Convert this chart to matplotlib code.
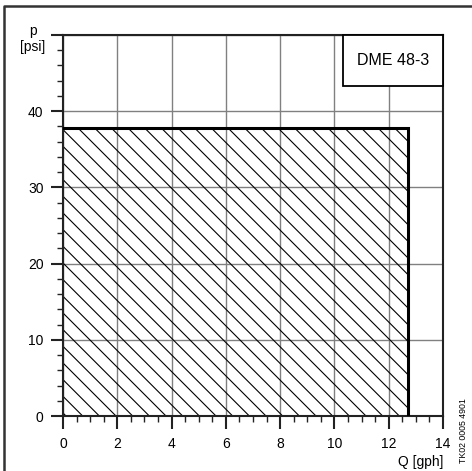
import matplotlib
matplotlib.use('Agg')
import matplotlib.pyplot as plt
import numpy as np
from matplotlib.patches import Rectangle
from matplotlib.lines import Line2D

plt.rcParams['font.family'] = ['Liberation Sans', 'DejaVu Sans']
plt.rcParams['hatch.linewidth'] = 0.8

# operating range of the pump
q_max = 12.7   # gph
p_max = 37.8   # psi
model = 'DME 48-3'
code = 'TK02 0005 4901'

x_major = np.arange(0, 15, 2)
x_minor = np.arange(0, 14.5, 0.5)
y_major = np.arange(0, 51, 10)
y_minor = np.arange(0, 51, 2)
y_labels = ['0', '10', '20', '30', '40', '']

W, H = 472, 471
fig = plt.figure(figsize=(W / 100, H / 100), dpi=100)
ax = fig.add_axes([63 / W, (H - 416) / H, 380 / W, 381 / H])
ax.set_xlim(0, 14)
ax.set_ylim(0, 50)

ax.set_xticks(x_major)
ax.set_xticks(x_minor, minor=True)
ax.set_yticks(y_major)
ax.set_yticklabels(y_labels)
ax.set_yticks(y_minor, minor=True)
ax.tick_params(which='major', direction='out', length=9, width=1.5, labelsize=10, color='#222222')
ax.tick_params(which='minor', direction='out', length=4.5, width=1.0, color='#222222')
ax.tick_params(axis='x', which='major', pad=6)
ax.tick_params(axis='y', which='major', pad=5)

ax.grid(which='major', color='#808080', linewidth=1.0)
ax.set_axisbelow(True)
for s in ax.spines.values():
    s.set_linewidth(1.5)
    s.set_color('#222222')

# hatched operating area
ax.fill_between([0, q_max], 0, p_max, facecolor='none', edgecolor='black',
                hatch='\\\\', linewidth=0, zorder=2)
ax.plot([0, q_max, q_max], [p_max, p_max, 0], color='black', linewidth=2.2,
        zorder=3, solid_joinstyle='miter')

# model label box
ax.add_patch(Rectangle((10.32, 43.3), 3.68, 6.7, facecolor='white',
                       edgecolor='black', linewidth=1.3, zorder=4, clip_on=False))
ax.text(12.16, 46.65, model, ha='center', va='center', fontsize=11.5, zorder=5)

fig.text(33 / W, 1 - 39 / H, 'p\n[psi]', ha='center', va='center', fontsize=10,
         linespacing=1.15)
fig.text(443 / W, 1 - 462 / H, 'Q [gph]', ha='right', va='center', fontsize=10)
fig.text(463 / W, 1 - 463 / H, code, rotation=90, ha='center', va='bottom',
         fontsize=6.3)

# outer frame (top and left)
fig.add_artist(Line2D([4 / W, 4 / W, 1], [0, 1 - 6 / H, 1 - 6 / H],
                      color='#333333', linewidth=1.8, transform=fig.transFigure))

plt.savefig('out.png', dpi=100)
